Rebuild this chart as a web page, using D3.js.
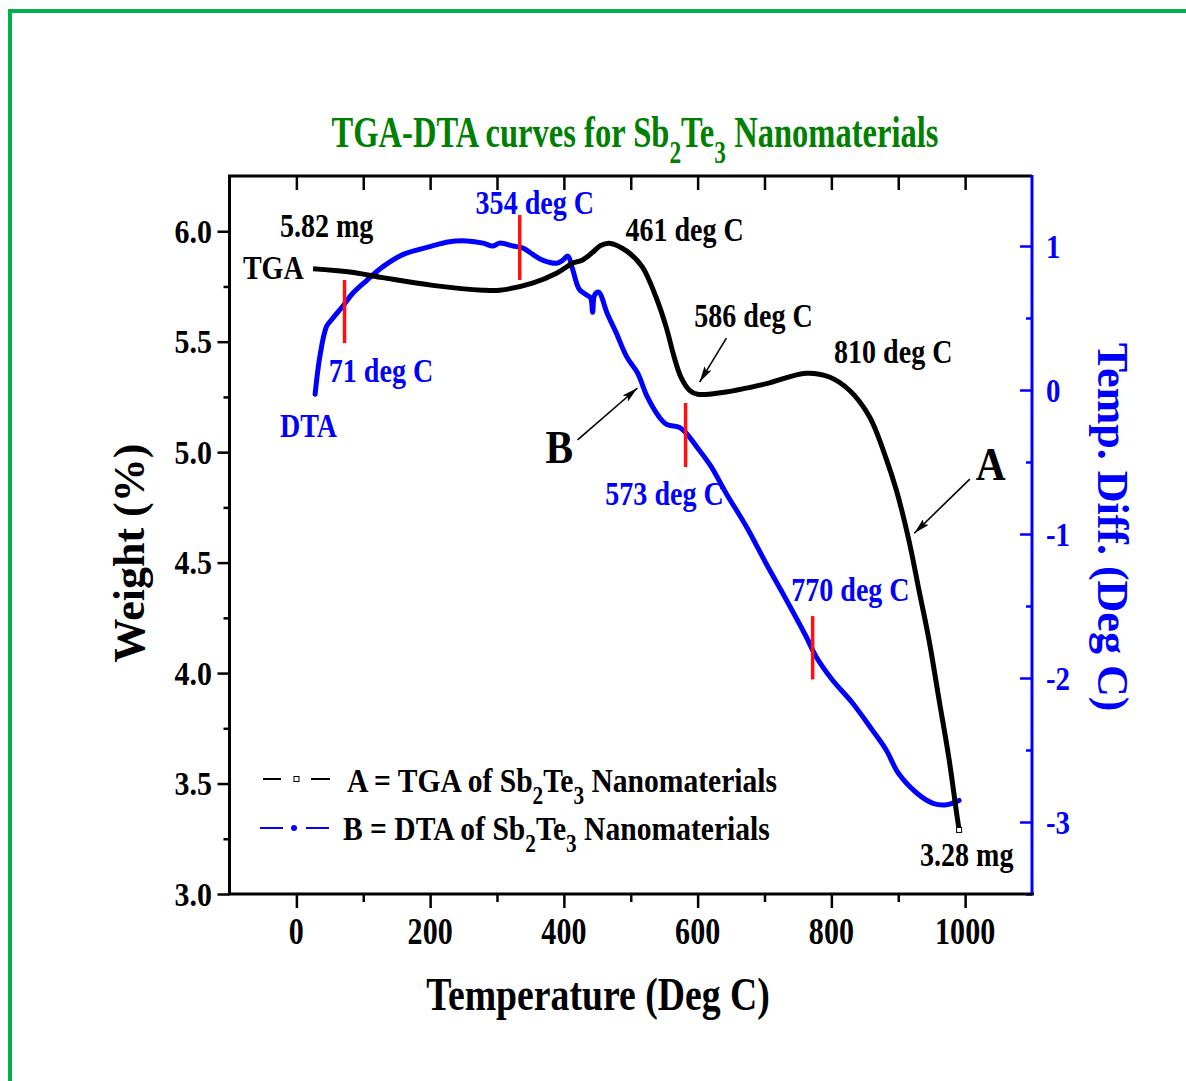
<!DOCTYPE html>
<html>
<head>
<meta charset="utf-8">
<script src="https://cdn.jsdelivr.net/npm/d3@7"></script>
<style>
  html, body { margin: 0; padding: 0; background: #fff; }
  svg { display: block; }
  text { font-family: "Liberation Serif", "Times New Roman", serif; font-weight: bold; }
</style>
</head>
<body>
<svg id="chart" width="1186" height="1081"></svg>
<script>
// ---------------- DATA ----------------
// TGA curve: temperature (deg C) and weight (mg / "%")
const tgaTemp   = [25, 80, 129, 204, 279, 304, 353, 389, 413, 428, 443, 455, 468, 494, 517, 538, 553, 565, 575, 588, 600, 637, 703, 762, 797, 827, 857, 882, 897, 916, 931, 946, 961, 976, 988, 991];
const tgaWeight = [5.83, 5.815, 5.79, 5.755, 5.733, 5.733, 5.765, 5.81, 5.855, 5.87, 5.905, 5.935, 5.946, 5.91, 5.84, 5.70, 5.566, 5.43, 5.34, 5.28, 5.262, 5.27, 5.31, 5.357, 5.34, 5.28, 5.16, 4.97, 4.83, 4.60, 4.375, 4.15, 3.88, 3.61, 3.35, 3.29];

// DTA curve: temperature (deg C) and temperature difference (deg C)
const dtaTemp  = [28, 35, 45, 53, 69, 84, 105, 129, 159, 195, 229, 255, 279, 294, 304, 324, 339, 354, 369, 389, 398, 406, 413, 423, 434, 440, 443, 446, 452, 465, 478, 494, 510, 525, 543, 554, 573, 583, 598, 620, 643, 673, 703, 733, 762, 777, 801, 831, 861, 882, 900, 928, 952, 972, 991];
const dtaValue = [-0.03, 0.23, 0.44, 0.49, 0.58, 0.67, 0.76, 0.855, 0.94, 0.99, 1.03, 1.035, 1.02, 1.0, 1.02, 1.0, 0.985, 0.94, 0.90, 0.88, 0.90, 0.93, 0.84, 0.70, 0.66, 0.64, 0.54, 0.66, 0.68, 0.53, 0.40, 0.23, 0.12, -0.05, -0.19, -0.24, -0.26, -0.30, -0.39, -0.53, -0.72, -0.95, -1.21, -1.46, -1.71, -1.85, -2.01, -2.17, -2.36, -2.50, -2.66, -2.80, -2.87, -2.88, -2.85];

// red transition markers on the DTA curve
const markerTemp = [72, 334, 582, 772];
const markerLow  = [0.326, 0.764, -0.535, -2.01];
const markerHigh = [0.764, 1.215, -0.09, -1.57];

// tick labels
const tempTicks   = [0, 200, 400, 600, 800, 1000];
const weightTicks = [3.0, 3.5, 4.0, 4.5, 5.0, 5.5, 6.0];
const dtaTicks    = [-3, -2, -1, 0, 1];

// texts
const titleParts  = [["TGA-DTA curves for Sb"], ["2", true], ["Te"], ["3", true], [" Nanomaterials"]];
const legendA     = [["A = TGA of Sb"], ["2", true], ["Te"], ["3", true], [" Nanomaterials"]];
const legendB     = [["B = DTA of Sb"], ["2", true], ["Te"], ["3", true], [" Nanomaterials"]];

// annotations: text, temperature, value, axis ("w" weight / "d" DTA)
const annText  = ["5.82 mg", "TGA", "354 deg C", "461 deg C", "586 deg C", "810 deg C", "71 deg C", "DTA", "573 deg C", "770 deg C", "3.28 mg"];
const annTemp  = [-24.6, -80, 268, 492, 595, 804, 48.5, -24.6, 462, 740, 932.6];
const annValue = [5.973, 5.783, 1.222, 5.955, 5.566, 5.403, 0.056, -0.326, -0.799, -1.465, 3.127];
const annAxis  = ["w", "w", "d", "w", "w", "w", "d", "d", "d", "d", "w"];

// ---------------- CHART ----------------
const svg = d3.select("#chart");
const BLUE = "#0000ff", BLACK = "#000", RED = "#ff1010", GREEN = "#008000";

const x  = d3.scaleLinear().domain([-100, 1100]).range([229.5, 1032]);
const yW = d3.scaleLinear().domain([3.0, 6.25]).range([894, 176]);
const yD = d3.scaleLinear().domain([-3.5, 1.5]).range([894, 174]);

// outer green frame
svg.append("line").attr("x1", 8).attr("x2", 1186).attr("y1", 11).attr("y2", 11)
  .attr("stroke", "#00b050").attr("stroke-width", 4);
svg.append("line").attr("x1", 10).attr("x2", 10).attr("y1", 9).attr("y2", 1081)
  .attr("stroke", "#00b050").attr("stroke-width", 4);

// text helper with horizontal condensing
function label(px, py, parts, o) {
  const size = o.size, sx = o.sx || 0.85;
  const t = svg.append("text")
    .attr("transform", `translate(${px},${py}) rotate(${o.rotate || 0}) scale(${sx},1)`)
    .attr("text-anchor", o.anchor || "start")
    .attr("fill", o.fill || BLACK)
    .style("font-size", size + "px");
  let shifted = false;
  parts.forEach(p => {
    const ts = t.append("tspan").text(p[0]);
    const sub = !!p[1];
    if (sub && !shifted) { ts.attr("dy", size * 0.36).style("font-size", (size * 0.72) + "px"); shifted = true; }
    else if (sub) { ts.style("font-size", (size * 0.72) + "px"); }
    else if (!sub && shifted) { ts.attr("dy", -size * 0.36); shifted = false; }
  });
  return t;
}

// title
label(635, 147, titleParts, {size: 44, sx: 0.74, anchor: "middle", fill: GREEN});

// ---- axes ----
function styleAxis(g, color, w) {
  g.select(".domain").remove();
  g.selectAll("line").attr("stroke", color).attr("stroke-width", w);
  g.selectAll("text").remove();
}
// bottom: major outward 14, minor 8
svg.append("g").attr("transform", "translate(0,894)")
  .call(d3.axisBottom(x).tickValues(tempTicks).tickSize(14).tickSizeOuter(0))
  .call(g => styleAxis(g, BLACK, 2.5));
svg.append("g").attr("transform", "translate(0,894)")
  .call(d3.axisBottom(x).tickValues(d3.range(100, 1001, 200)).tickSize(8).tickSizeOuter(0))
  .call(g => styleAxis(g, BLACK, 2.5));
// top: inward ticks every 100
svg.append("g").attr("transform", "translate(0,176)")
  .call(d3.axisBottom(x).tickValues(d3.range(0, 1001, 100)).tickSize(14).tickSizeOuter(0))
  .call(g => styleAxis(g, BLACK, 2.5));
// left: outward major 12, minor 6
svg.append("g").attr("transform", "translate(229.5,0)")
  .call(d3.axisLeft(yW).tickValues(weightTicks).tickSize(12).tickSizeOuter(0))
  .call(g => styleAxis(g, BLACK, 2.5));
svg.append("g").attr("transform", "translate(229.5,0)")
  .call(d3.axisLeft(yW).tickValues(d3.range(3.25, 6.0, 0.5)).tickSize(6).tickSizeOuter(0))
  .call(g => styleAxis(g, BLACK, 2.5));
// right: inward major 12, minor 6 (blue)
svg.append("g").attr("transform", "translate(1032,0)")
  .call(d3.axisLeft(yD).tickValues(dtaTicks).tickSize(12).tickSizeOuter(0))
  .call(g => styleAxis(g, BLUE, 2.5));
svg.append("g").attr("transform", "translate(1032,0)")
  .call(d3.axisLeft(yD).tickValues(d3.range(-3.5, 1.01, 1)).tickSize(6).tickSizeOuter(0))
  .call(g => styleAxis(g, BLUE, 2.5));

// axis lines
svg.append("line").attr("x1", 228).attr("x2", 1032).attr("y1", 176).attr("y2", 176).attr("stroke", BLACK).attr("stroke-width", 3);
svg.append("line").attr("x1", 228).attr("x2", 1034).attr("y1", 894).attr("y2", 894).attr("stroke", BLACK).attr("stroke-width", 3);
svg.append("line").attr("x1", 229.5).attr("x2", 229.5).attr("y1", 175).attr("y2", 895).attr("stroke", BLACK).attr("stroke-width", 3);
svg.append("line").attr("x1", 1032).attr("x2", 1032).attr("y1", 175).attr("y2", 893).attr("stroke", BLUE).attr("stroke-width", 3);

// tick labels
tempTicks.forEach(t => label(x(t), 944, [[String(t)]], {size: 38, sx: 0.79, anchor: "middle"}));
weightTicks.forEach(w => label(212, yW(w) + 11.5, [[w.toFixed(1)]], {size: 34, sx: 0.88, anchor: "end"}));
dtaTicks.forEach(v => label(1046, yD(v) + 11.5, [[String(v)]], {size: 34, sx: 0.85, anchor: "start", fill: BLUE}));

// axis titles
label(598, 1010, [["Temperature (Deg C)"]], {size: 46, sx: 0.82, anchor: "middle"});
label(144, 553, [["Weight (%)"]], {size: 44, sx: 1, anchor: "middle", rotate: -90});
label(1098, 527, [["Temp. Diff. (Deg C)"]], {size: 44, sx: 1, anchor: "middle", rotate: 90, fill: BLUE});

// ---- curves ----
const tgaData = tgaTemp.map((t, i) => [t, tgaWeight[i]]);
const dtaData = dtaTemp.map((t, i) => [t, dtaValue[i]]);

svg.append("path").datum(dtaData)
  .attr("d", d3.line().x(d => x(d[0])).y(d => yD(d[1])).curve(d3.curveCatmullRom.alpha(0.5)))
  .attr("fill", "none").attr("stroke", BLUE).attr("stroke-width", 5)
  .attr("stroke-linejoin", "round").attr("stroke-linecap", "round");

svg.append("path").datum(tgaData)
  .attr("d", d3.line().x(d => x(d[0])).y(d => yW(d[1])).curve(d3.curveCatmullRom.alpha(0.5)))
  .attr("fill", "none").attr("stroke", BLACK).attr("stroke-width", 5)
  .attr("stroke-linejoin", "round");

// end marker of TGA
const last = tgaData[tgaData.length - 1];
svg.append("rect").attr("x", x(last[0]) - 2.5).attr("y", yW(last[1]) - 2.5)
  .attr("width", 5).attr("height", 5).attr("fill", "#fff").attr("stroke", BLACK).attr("stroke-width", 1);

// red markers
markerTemp.forEach((t, i) => {
  svg.append("line").attr("x1", x(t)).attr("x2", x(t))
    .attr("y1", yD(markerLow[i])).attr("y2", yD(markerHigh[i]))
    .attr("stroke", RED).attr("stroke-width", 3.5);
});

// arrows
const defs = svg.append("defs");
defs.append("marker").attr("id", "arr").attr("viewBox", "0 0 16 8")
  .attr("refX", 16).attr("refY", 4).attr("markerWidth", 16).attr("markerHeight", 8)
  .attr("markerUnits", "userSpaceOnUse").attr("orient", "auto")
  .append("path").attr("d", "M0,0 L16,4 L0,8 L3,4 Z").attr("fill", BLACK);

function arrow(t1, v1, t2, v2, ys) {
  svg.append("line").attr("x1", x(t1)).attr("y1", ys(v1)).attr("x2", x(t2)).attr("y2", ys(v2))
    .attr("stroke", BLACK).attr("stroke-width", 1.6).attr("marker-end", "url(#arr)");
}
arrow(420.5, -0.347, 510, 0.014, yD);   // B
arrow(643, 5.516, 603, 5.317, yW);      // 586 deg C
arrow(1007, 4.878, 924, 4.633, yW);     // A

// annotation texts
annText.forEach((s, i) => {
  const ys = annAxis[i] === "w" ? yW : yD;
  const fill = annAxis[i] === "w" ? BLACK : BLUE;
  label(x(annTemp[i]), ys(annValue[i]), [[s]], {size: 33, sx: 0.85, fill});
});
label(x(372.5), yD(-0.507), [["B"]], {size: 46, sx: 0.9});
label(x(1016), yW(4.873), [["A"]], {size: 46, sx: 0.9});

// ---- legend ----
const lg = svg.append("g");
lg.append("line").attr("x1", 263).attr("x2", 281).attr("y1", 779).attr("y2", 779).attr("stroke", BLACK).attr("stroke-width", 2);
lg.append("line").attr("x1", 311).attr("x2", 330).attr("y1", 779).attr("y2", 779).attr("stroke", BLACK).attr("stroke-width", 2);
lg.append("rect").attr("x", 294).attr("y", 776.5).attr("width", 5).attr("height", 5).attr("fill", "#fff").attr("stroke", BLACK).attr("stroke-width", 1);
lg.append("line").attr("x1", 260).attr("x2", 283).attr("y1", 828).attr("y2", 828).attr("stroke", BLUE).attr("stroke-width", 2);
lg.append("line").attr("x1", 306).attr("x2", 329).attr("y1", 828).attr("y2", 828).attr("stroke", BLUE).attr("stroke-width", 2);
lg.append("circle").attr("cx", 294).attr("cy", 828).attr("r", 3).attr("fill", BLUE);
label(347, 792, legendA, {size: 34, sx: 0.87});
label(343, 840, legendB, {size: 34, sx: 0.87});
</script>
</body>
</html>
